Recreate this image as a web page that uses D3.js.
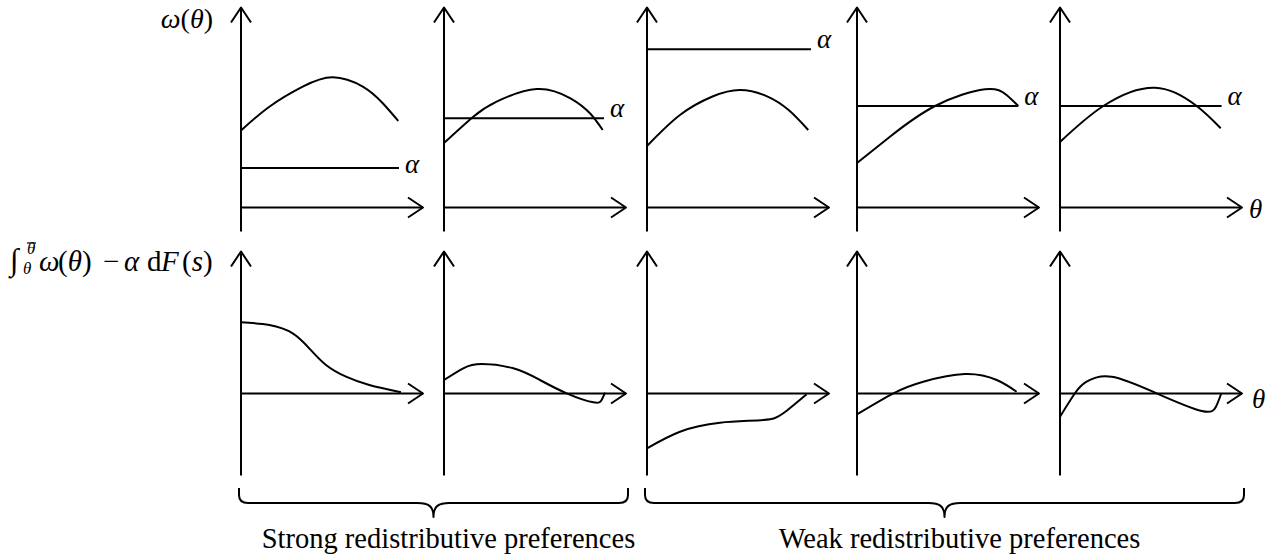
<!DOCTYPE html>
<html>
<head>
<meta charset="utf-8">
<script src="https://cdn.jsdelivr.net/npm/d3@7"></script>
<style>
  html, body { margin: 0; padding: 0; background: #fff; }
  svg { display: block; }
  text { font-family: "Liberation Serif", "DejaVu Serif", serif; fill: #000; }
</style>
</head>
<body>
<svg id="fig" width="1278" height="555"></svg>
<script>
// Type θ on the horizontal axis runs 0..100 in every panel.
// Top row: welfare weight ω(θ) and the constant α.
const omegaCurves = [
  [[0, 38.5], [15.6, 50.4], [33.9, 60.4], [50.4, 65.1], [66.9, 60.4], [77.9, 52.1], [86.4, 43.25]],
  [[0, 32.25], [16.1, 45.4], [28.9, 52.9], [50.9, 59.25], [69.5, 54.6], [80.2, 47.1], [87.2, 38.75]],
  [[0, 30.75], [18.1, 46.25], [36, 55.5], [51.1, 58.75], [66, 55.6], [78, 48.6], [88.6, 38.75]],
  [[0, 22.25], [18.1, 35.4], [42.9, 50.75], [70.3, 59.1], [82.2, 56.25], [88.6, 50.75]],
  [[0, 32.75], [23.8, 50.75], [52.2, 59.9], [75.1, 50.75], [88.3, 39.6]]
];
const alphaLevels = [19.75, 44.6, 79.1, 50.75, 50.75];
const alphaEnds = [86.8, 87.9, 90.1, 88.6, 88.8];

// Bottom row: the integral of ω(θ) − α over the upper tail.
const gapCurves = [
  [[0, 35.6], [15.6, 34.25], [28.4, 30.1], [37.5, 22.6], [46.7, 14.25], [57.7, 8.4], [70.5, 4.25], [87.9, 0.6]],
  [[0, 6.75], [10.6, 12.6], [20.7, 14.75], [38.1, 12.6], [52.7, 6.75], [67.4, 0.1], [82, -4.4], [86.6, -3.25], [88.5, 0.4]],
  [[0, -27.4], [18.1, -19.1], [40.1, -14.6], [63.9, -13.25], [74.9, -9.9], [87.7, -0.4]],
  [[0, -10.4], [20, 0.1], [36.4, 5.9], [59.3, 9.75], [76.8, 6.75], [87.7, 0.9]],
  [[0, -11.6], [8.2, 0.1], [14.6, 5.9], [28.4, 8.4], [53.1, 0.1], [77.9, -8.75], [85.7, -6.6], [88.5, -0.25]]
];

// Groups of panels under each brace.
const groupLabels = ["Strong redistributive preferences", "Weak redistributive preferences"];
const groupPanels = [[0, 1], [2, 4]];

// ---- layout ----
const panelX = [241, 444, 647, 857, 1060];
const alphaLabelDy = [5, -1, -1, -1, -1];
const svg = d3.select("#fig");

const x = d3.scaleLinear().domain([0, 100]).range([0, 182]);
const yTop = d3.scaleLinear().domain([0, 100]).range([207.5, 7.5]);
const yBot = d3.scaleLinear().domain([0, 100]).range([393.5, 193.5]);
const topDomain = [-12, 100];
const botDomain = [-41, 71];

function drawAxes(g, y, dom) {
  const yT = y(dom[1]), yB = y(dom[0]), y0 = y(0), xE = x(100);
  g.append("line").attr("x1", 0).attr("x2", 0).attr("y1", yT).attr("y2", yB);
  g.append("path").attr("d", `M-10,${yT + 15}L0,${yT}L10,${yT + 15}`);
  g.append("line").attr("x1", 0).attr("x2", xE).attr("y1", y0).attr("y2", y0);
  g.append("path").attr("d", `M${xE - 15},${y0 - 10}L${xE},${y0}L${xE - 15},${y0 + 10}`);
}

const strokeStyle = sel => sel.attr("fill", "none").attr("stroke", "#000")
  .attr("stroke-width", 2).attr("stroke-linejoin", "round");

panelX.forEach((px, i) => {
  // top panel
  const gt = svg.append("g").attr("transform", `translate(${px},0)`).call(strokeStyle);
  drawAxes(gt, yTop, topDomain);
  const lineTop = d3.line().x(d => x(d[0])).y(d => yTop(d[1])).curve(d3.curveNatural);
  gt.append("path").attr("d", lineTop(omegaCurves[i]));
  gt.append("line").attr("x1", 0).attr("x2", x(alphaEnds[i]))
    .attr("y1", yTop(alphaLevels[i])).attr("y2", yTop(alphaLevels[i]));
  svg.append("text").attr("x", px + x(alphaEnds[i]) + 6)
    .attr("y", yTop(alphaLevels[i]) + alphaLabelDy[i])
    .attr("font-size", 27).attr("font-style", "italic").text("α");

  // bottom panel
  const gb = svg.append("g").attr("transform", `translate(${px},0)`).call(strokeStyle);
  drawAxes(gb, yBot, botDomain);
  const lineBot = d3.line().x(d => x(d[0])).y(d => yBot(d[1])).curve(d3.curveNatural);
  gb.append("path").attr("d", lineBot(gapCurves[i]));
});

// θ labels at the end of the last horizontal axes
const last = panelX[panelX.length - 1];
svg.append("text").attr("x", last + x(100) + 7).attr("y", yTop(0) + 10)
  .attr("font-size", 27).attr("font-style", "italic").text("θ");
svg.append("text").attr("x", last + x(100) + 10).attr("y", yBot(0) + 14)
  .attr("font-size", 27).attr("font-style", "italic").text("θ");

// Row labels
const omegaLab = svg.append("text").attr("x", 213).attr("y", 28)
  .attr("font-size", 28).attr("text-anchor", "end");
omegaLab.append("tspan").attr("font-style", "italic").text("ω");
omegaLab.append("tspan").text("(");
omegaLab.append("tspan").attr("font-style", "italic").text("θ");
omegaLab.append("tspan").text(")");

// ∫ from θ to θ̄ of ω(θ) − α dF(s), set as one text with positioned pieces
const intLab = svg.append("text").attr("font-size", 29);
const intParts = [
  // [text, x, y, size, italic]
  ["∫", 10, 270, 31, false],
  ["θ", 27, 254, 17, true],
  ["θ", 23, 274, 17, true],
  ["ω", 39, 271, 29, true],
  ["(θ)", 58, 271, 29, false],
  ["−", 103, 271, 29, false],
  ["α", 124, 271, 29, true],
  ["d", 147, 271, 29, false],
  ["F", 161, 271, 29, true],
  ["(s)", 182, 271, 29, false]
];
intParts.forEach(([t, px, py, fs, it]) => {
  const ts = intLab.append("tspan").attr("x", px).attr("y", py).attr("font-size", fs)
    .attr("font-style", it ? "italic" : "normal");
  if (t === "(θ)" || t === "(s)") {
    ts.text("(");
    intLab.append("tspan").attr("font-style", "italic").attr("font-size", fs).text(t[1]);
    intLab.append("tspan").attr("font-style", "normal").attr("font-size", fs).text(")");
  } else {
    ts.text(t);
  }
});
svg.append("line").attr("x1", 27).attr("x2", 36).attr("y1", 243).attr("y2", 243)
  .attr("stroke", "#000").attr("stroke-width", 1.2);

// Braces with group labels
const textCenterShift = 15;
groupPanels.forEach((span, k) => {
  const x0 = panelX[span[0]] - 2;
  const x1 = panelX[span[1]] + x(100) + 2;
  const mid = (x0 + x1) / 2;
  const yTopB = 488, yLine = 503, yTip = 517;
  const d = `M${x0},${yTopB}V${yLine - 8}Q${x0},${yLine} ${x0 + 9},${yLine}` +
    `H${mid - 16}C${mid - 5},${yLine} ${mid},${yLine + 3} ${mid},${yTip}` +
    `C${mid},${yLine + 3} ${mid + 5},${yLine} ${mid + 16},${yLine}` +
    `H${x1 - 9}Q${x1},${yLine} ${x1},${yLine - 8}V${yTopB}`;
  svg.append("path").attr("d", d).call(strokeStyle);
  svg.append("text").attr("x", mid + textCenterShift).attr("y", 548)
    .attr("font-size", 28.5).attr("text-anchor", "middle").text(groupLabels[k]);
});
</script>
</body>
</html>
